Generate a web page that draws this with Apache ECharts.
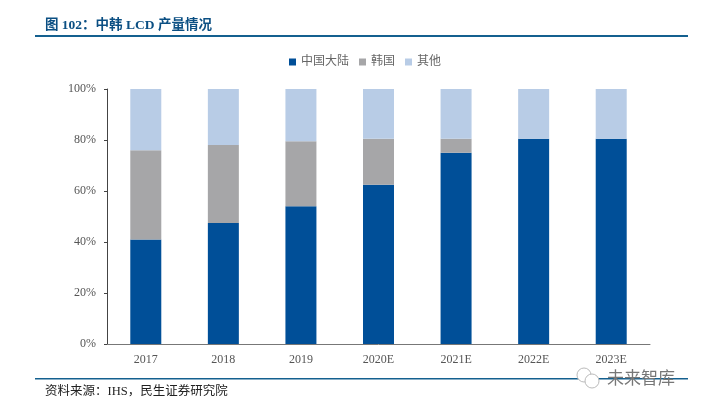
<!DOCTYPE html>
<html>
<head>
<meta charset="utf-8">
<style>
html,body{margin:0;padding:0;background:#fff;}
#chart{width:707px;height:410px;}
</style>
<script src="https://cdn.jsdelivr.net/npm/echarts@6/dist/echarts.min.js"></script>
</head>
<body>
<div id="chart"></div>
<script>
var categories = ['2017', '2018', '2019', '2020E', '2021E', '2022E', '2023E'];
var seriesNames = ['中国大陆', '韩国', '其他'];
var mainland = [41, 47.5, 54, 62.5, 75, 80.5, 80.5];
var korea = [35, 30.5, 25.5, 18, 5.5, 0, 0];
var others = [24, 22, 20.5, 19.5, 19.5, 19.5, 19.5];
var yTicks = [0, 20, 40, 60, 80, 100];

var fontStack = '"Liberation Serif","Noto Sans CJK SC",serif';
var myChart = echarts.init(document.getElementById('chart'), null, {renderer: 'canvas'});

function bar(name, data, color) {
    return {
        name: name,
        type: 'bar',
        stack: 'total',
        barWidth: 31,
        data: data,
        itemStyle: {color: color},
        emphasis: {disabled: true}
    };
}

var option = {
    animation: false,
    backgroundColor: '#fff',
    grid: {left: 107, right: 57, top: 89, bottom: 66, containLabel: false},
    legend: {
        top: 51,
        left: 284,
        itemWidth: 7,
        itemHeight: 7,
        itemGap: 10,
        icon: 'rect',
        textStyle: {color: '#666', fontSize: 12, fontFamily: fontStack},
        data: seriesNames
    },
    xAxis: {
        type: 'category',
        data: categories,
        axisTick: {show: false},
        axisLine: {lineStyle: {color: '#777', width: 1}},
        axisLabel: {color: '#555', fontSize: 12, fontFamily: fontStack, margin: 10}
    },
    yAxis: {
        type: 'value',
        min: 0,
        max: yTicks[yTicks.length - 1],
        interval: 20,
        splitLine: {show: false},
        axisLine: {show: true, lineStyle: {color: '#444', width: 1}},
        axisTick: {show: true, inside: false, length: 3, lineStyle: {color: '#444'}},
        axisLabel: {
            color: '#555', fontSize: 12, fontFamily: fontStack, margin: 11,
            formatter: '{value}%'
        }
    },
    series: [
        bar(seriesNames[0], mainland, '#004f98'),
        bar(seriesNames[1], korea, '#a6a6a8'),
        bar(seriesNames[2], others, '#b8cce6')
    ],
    graphic: [
        {type: 'text', left: 45, top: 19, style: {text: '图 102：中韩 LCD 产量情况', fill: '#0b4f83', font: 'bold 13.5px ' + fontStack}},
        {type: 'rect', shape: {x: 35, y: 35, width: 653, height: 2}, style: {fill: '#14608f'}},
        {type: 'rect', shape: {x: 35, y: 378, width: 653, height: 1.5}, style: {fill: '#14608f'}},
        {type: 'text', left: 45, top: 385, style: {text: '资料来源：IHS，民生证券研究院', fill: '#222', font: '12.5px ' + fontStack}},
        // 水印
        {type: 'circle', shape: {cx: 584, cy: 375, r: 7}, style: {fill: '#fff', stroke: '#bbb', lineWidth: 1}},
        {type: 'circle', shape: {cx: 592, cy: 381, r: 7}, style: {fill: '#fff', stroke: '#bbb', lineWidth: 1}},
        {type: 'text', left: 607, top: 369, style: {text: '未来智库', fill: '#777', font: '17px "Noto Sans CJK SC"'}}
    ]
};
myChart.setOption(option);
</script>
</body>
</html>
